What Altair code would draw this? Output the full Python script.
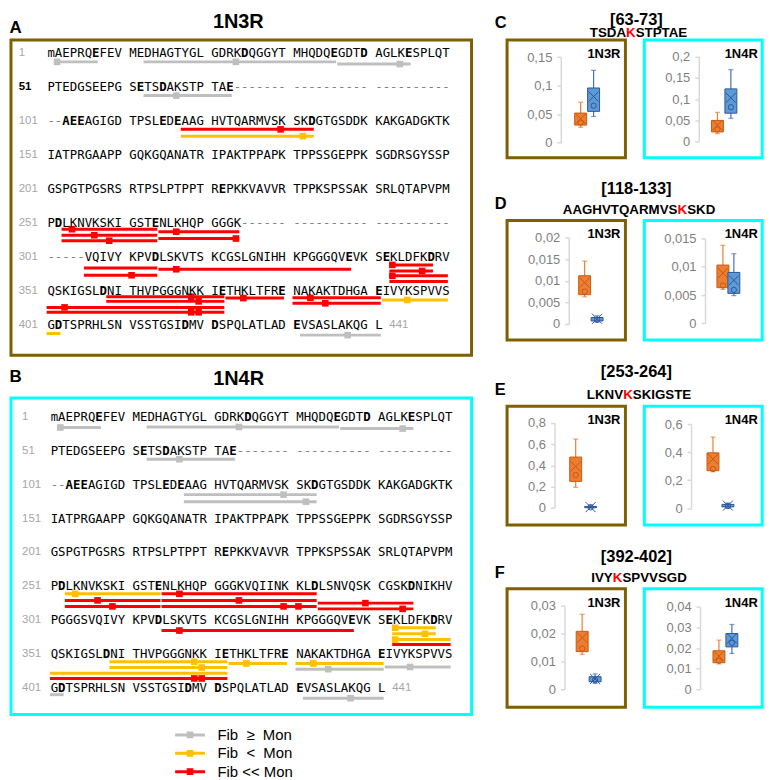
import altair as alt
import pandas as pd

FONT = "Liberation Sans"
MONO = "DejaVu Sans Mono"

# ---------------- tau sequences (2N4R numbering, [X] = bold residue) ----------------
SEQ_1N3R = [
    "mAEPRQ[E]FEV MEDHAGTYGL GDRK[D]QGGYT MHQDQ[E]GDT[D] AGLK[E]SPLQT",
    "PTEDGSEEPG S[E]TS[D]AKSTP TA[E]------- ---------- ----------",
    "--[A][E][E]AGIGD TPSL[E]D[E]AAG HVTQARMVSK SK[D]GTGSDDK KAKGADGKTK",
    "IATPRGAAPP GQKGQANATR IPAKTPPAPK TPPSSGEPPK SGDRSGYSSP",
    "GSPGTPGSRS RTPSLPTPPT R[E]PKKVAVVR TPPKSPSSAK SRLQTAPVPM",
    "P[D]LKNVKSKI GST[E]NLKHQP GGGK------ ---------- ----------",
    "-----VQIVY KPV[D]LSKVTS KCGSLGNIHH KPGGGQV[E]VK S[E]KLDFK[D]RV",
    "QSKIGSL[D]NI THVPGGGNKK I[E]THKLTFR[E] NAKAKTDHGA [E]IVYKSPVVS",
    "G[D]TSPRHLSN VSSTGSI[D]MV [D]SPQLATLAD [E]VSASLAKQG L",
]
SEQ_1N4R = SEQ_1N3R[:5] + [
    "P[D]LKNVKSKI GST[E]NLKHQP GGGKVQIINK KL[D]LSNVQSK CGSK[D]NIKHV",
    "PGGGSVQIVY KPV[D]LSKVTS KCGSLGNIHH KPGGGQV[E]VK S[E]KLDFK[D]RV",
] + SEQ_1N3R[7:]
ROW_NUMBERS = ["1", "51", "101", "151", "201", "251", "301", "351", "401"]
LAST_NUMBER = "441"
DARK_ROW_NUMBERS = {"1N3R": ["51"], "1N4R": []}

CLASS_LABELS = ["Fib\u00a0\u00a0\u2265\u00a0\u00a0Mon", "Fib\u00a0\u00a0<\u00a0\u00a0Mon", "Fib << Mon"]
CLASS_COLORS = ["#bfbfbf", "#ffc000", "#ff0000"]

# peptide segments: (first residue, last residue, class index, stacking lane, modified lysines)
PEPTIDES_1N3R = [
    (2, 7, 0, 0.6, [2]), (13, 36, 0, 0.6, [24]), (37, 45, 0, 1.0, [44]),
    (63, 73, 0, 0.55, [67]),
    (118, 133, 2, 0.5, [130]), (118, 133, 1, 1.75, [132]),
    (253, 264, 2, 0.1, [254]), (253, 264, 2, 1.2, [257]), (253, 264, 2, 2.2, [259]),
    (265, 274, 2, 0.55, [267]), (265, 274, 2, 1.8, [274]),
    (306, 314, 2, 0.95, []), (306, 314, 2, 2.3, [311]), (315, 338, 2, 1.2, [317]),
    (343, 348, 2, 0.4, [343]), (343, 348, 2, 1.5, [347]),
    (343, 350, 2, 2.4, [343]), (343, 350, 2, 3.45, []),
    (359, 372, 2, 0.0, [369]), (359, 372, 2, 0.85, [370]),
    (351, 372, 2, 1.95, [353]), (351, 372, 2, 2.85, [369, 370]),
    (373, 380, 2, 0.25, [375]), (381, 391, 2, 0.2, [383]), (381, 391, 2, 1.2, [385]),
    (392, 400, 1, 0.6, [395]), (401, 402, 1, 0.5, []),
    (432, 441, 0, 0.8, [438]),
]
PEPTIDES_1N4R = [
    (2, 7, 0, 0.9, [2]), (13, 36, 0, 0.8, [24]), (37, 45, 0, 1.1, [44]),
    (63, 73, 0, 0.5, [67]),
    (118, 133, 0, 0.75, [130]), (118, 133, 0, 2.05, [132]),
    (253, 264, 1, 0.25, [254]), (253, 264, 2, 1.45, [257]), (253, 264, 2, 2.55, [259]),
    (265, 283, 2, 0.25, [267]), (265, 283, 2, 1.45, [274]), (265, 283, 2, 2.55, [280, 281]),
    (284, 295, 2, 1.95, [290]), (284, 295, 2, 3.0, [294]),
    (315, 338, 2, 0.75, [317]),
    (343, 348, 1, 0.25, [343]), (343, 348, 1, 1.35, [347]),
    (343, 350, 1, 2.4, [343]), (343, 350, 2, 3.3, []),
    (359, 372, 1, 0.25, [369]), (359, 372, 1, 1.3, [370]),
    (351, 372, 1, 2.35, []), (351, 372, 2, 3.3, [369, 370]),
    (373, 380, 1, 0.55, [375]), (381, 391, 1, 0.55, [383]), (381, 391, 0, 1.6, [385]),
    (392, 400, 0, 1.2, [395]), (401, 402, 0, 0.05, []),
    (432, 441, 0, 0.7, [438]),
]

# ---------------- box-plot panels ----------------
PANEL_KEYS = ["C", "D", "E", "F"]
PANEL_RANGES = ["[63-73]", "[118-133]", "[253-264]", "[392-402]"]
PANEL_PEPTIDES = ["TSDAKSTPTAE", "AAGHVTQARMVSKSKD", "LKNVKSKIGSTE", "IVYKSPVVSGD"]
PANEL_SITE_INDEX = [4, 12, 4, 3]
AXIS_TICKS = {
    "C": {"1N3R": [0, 0.05, 0.1, 0.15], "1N4R": [0, 0.05, 0.1, 0.15, 0.2]},
    "D": {"1N3R": [0, 0.005, 0.01, 0.015, 0.02], "1N4R": [0, 0.005, 0.01, 0.015]},
    "E": {"1N3R": [0, 0.2, 0.4, 0.6, 0.8], "1N4R": [0, 0.2, 0.4, 0.6]},
    "F": {"1N3R": [0, 0.01, 0.02, 0.03], "1N4R": [0, 0.01, 0.02, 0.03, 0.04]},
}
# [whisker low, Q1, Q3, whisker high, mean, point]
BOX_STATS = {
    "C": {"1N3R": {"Mon": [0.027, 0.031, 0.052, 0.071, 0.042, 0.035],
                   "Fib": [0.046, 0.055, 0.096, 0.127, 0.081, 0.065]},
          "1N4R": {"Mon": [0.019, 0.023, 0.050, 0.069, 0.039, 0.029],
                   "Fib": [0.055, 0.067, 0.124, 0.169, 0.103, 0.081]}},
    "D": {"1N3R": {"Mon": [0.0063, 0.0068, 0.0112, 0.0146, 0.0096, 0.0075],
                   "Fib": [0.0004, 0.0007, 0.0015, 0.0019, 0.0012, 0.0010]},
          "1N4R": {"Mon": [0.0060, 0.0063, 0.0103, 0.0138, 0.0089, 0.0067],
                   "Fib": [0.0049, 0.0053, 0.0090, 0.0123, 0.0076, 0.0059]}},
    "E": {"1N3R": {"Mon": [0.194, 0.25, 0.478, 0.647, 0.39, 0.31],
                   "Fib": [0.0, 0.003, 0.015, 0.03, 0.008, 0.006]},
          "1N4R": {"Mon": [0.26, 0.268, 0.395, 0.508, 0.35, 0.28],
                   "Fib": [0.004, 0.010, 0.028, 0.038, 0.019, 0.016]}},
    "F": {"1N3R": {"Mon": [0.0125, 0.0135, 0.0208, 0.0269, 0.0185, 0.0146],
                   "Fib": [0.0021, 0.0027, 0.0045, 0.0055, 0.0037, 0.0033]},
          "1N4R": {"Mon": [0.0123, 0.0129, 0.0187, 0.0239, 0.0161, 0.0139],
                   "Fib": [0.0174, 0.0206, 0.0271, 0.0315, 0.0247, 0.0226]}},
}

# ---------------- styling / layout ----------------
FRAME = {"1N3R": "#7f6000", "1N4R": "#00ffff"}
GROUPS = ["Mon", "Fib"]
G_FILL = {"Mon": "#ed7d31", "Fib": "#5b9bd5"}
G_LINE = {"Mon": "#ed7d31", "Fib": "#4472c4"}
G_DARK = {"Mon": "#c55a11", "Fib": "#2f5597"}
ARIAL_BOLD = {"A": 722, "C": 722, "D": 722, "E": 667, "G": 778, "H": 722, "I": 278,
              "K": 722, "L": 611, "M": 833, "N": 722, "P": 667, "Q": 778, "R": 722,
              "S": 667, "T": 611, "V": 667, "Y": 667}
XPATH = "M-1,-1L1,1M-1,1L1,-1"
LEG_PATH = "M-2,0H2M-0.25,-0.25H0.25V0.25H-0.25Z"
ONE = pd.DataFrame({"v": [0]})


def label(txt, x, y, size, weight="bold", color="black", align="left", font=FONT):
    return alt.Chart(ONE).mark_text(text=txt, fontSize=size, fontWeight=weight, color=color,
                                    align=align, baseline="middle", font=font).encode(
        x=alt.value(x), y=alt.value(y))


def unit(res):
    col = (res - 1) % 50
    return col + col // 10


def seq_panel(iso, rows, peps, x0, cw, y0, rs, width, height, title_xy, letter, letter_xy, legend):
    chars = []
    for r, s in enumerate(rows):
        u, bold = 0, False
        for ch in s:
            if ch == "[":
                bold = True
                continue
            if ch == "]":
                bold = False
                continue
            if ch != " ":
                kind = "dash" if ch == "-" else ("bold" if bold else "plain")
                chars.append(dict(u=u + 0.5, yr=r, ch=ch, kind=kind))
            u += 1
    cdf = pd.DataFrame(chars)
    nums = [dict(u=-3.85, yr=r, txt=t, dark=int(t in DARK_ROW_NUMBERS[iso]))
            for r, t in enumerate(ROW_NUMBERS)]
    nums.append(dict(u=45.9, yr=8, txt=LAST_NUMBER, dark=0))
    ndf = pd.DataFrame(nums)
    bars, marks = [], []
    for s, e, c, lane, ks in peps:
        r = (s - 1) // 50
        yb = r + (6 + 5.5 * lane) / rs
        bars.append(dict(u1=unit(s) - 0.1, u2=unit(e) + 0.75, yb=yb, cls=CLASS_LABELS[c]))
        for k in ks:
            marks.append(dict(um=unit(k) + 0.3, yb=yb, cls=CLASS_LABELS[c]))
    bdf, mdf = pd.DataFrame(bars), pd.DataFrame(marks)

    xs = alt.Scale(domain=[0, 60], range=[x0, x0 + 60 * cw], nice=False, zero=False)
    ys = alt.Scale(domain=[0, 10], range=[y0, y0 + 10 * rs], nice=False, zero=False)
    cs = alt.Scale(domain=CLASS_LABELS, range=CLASS_COLORS)
    if legend:
        leg = alt.Legend(title=None, orient="none", legendX=legend[0], legendY=legend[1],
                         symbolType=LEG_PATH, symbolSize=225, symbolStrokeWidth=3,
                         labelFont=FONT, labelFontSize=15, labelColor="black",
                         labelOffset=18.5, rowPadding=1.5, padding=0, direction="vertical")
        col_r = alt.Color("cls:N", scale=cs, legend=leg)
        col_m = alt.Color("cls:N", scale=cs, legend=leg)
    else:
        col_r = alt.Color("cls:N", scale=cs, legend=None)
        col_m = alt.Color("cls:N", scale=cs, legend=None)

    X = alt.X("u:Q", scale=xs, axis=None)
    Y = alt.Y("yr:Q", scale=ys, axis=None)
    base = alt.Chart(cdf)
    txt = dict(font=MONO, fontSize=12.4, baseline="middle", align="center")
    plain = base.transform_filter(alt.datum.kind == "plain").mark_text(color="black", **txt).encode(x=X, y=Y, text="ch:N")
    boldc = base.transform_filter(alt.datum.kind == "bold").mark_text(color="black", fontWeight="bold", **txt).encode(x=X, y=Y, text="ch:N")
    dash = base.transform_filter(alt.datum.kind == "dash").mark_text(color="#808080", **txt).encode(x=X, y=Y, text="ch:N")
    nbase = alt.Chart(ndf)
    ntxt = dict(font=FONT, fontSize=11.5, baseline="middle", align="left")
    num_l = nbase.transform_filter(alt.datum.dark == 0).mark_text(color="#a6a6a6", **ntxt).encode(x=X, y=Y, text="txt:N")
    num_d = nbase.transform_filter(alt.datum.dark == 1).mark_text(color="black", fontWeight="bold", **ntxt).encode(x=X, y=Y, text="txt:N")
    rules = alt.Chart(bdf).mark_rule(strokeWidth=3).encode(
        x=alt.X("u1:Q", scale=xs, axis=None), x2="u2:Q",
        y=alt.Y("yb:Q", scale=ys, axis=None), color=col_r)
    squares = alt.Chart(mdf).mark_square(size=44, opacity=1).encode(
        x=alt.X("um:Q", scale=xs, axis=None), y=alt.Y("yb:Q", scale=ys, axis=None), color=col_m)
    title = label(iso, title_xy[0], title_xy[1], 20, align="center")
    let = label(letter, letter_xy[0], letter_xy[1], 17)
    return alt.layer(rules, squares, plain, boldc, dash, num_l, num_d, title, let).properties(
        width=width, height=height,
        view=alt.ViewBackground(stroke=FRAME[iso], strokeWidth=3, fill="white"))


# per-panel layout of the small charts
BOX_H = {"C": 118.5, "D": 120, "E": 119.5, "F": 119}
BOX_W = {"1N3R": 119, "1N4R": 118.5}
BOX_YR = {"C": {"1N3R": [103.4, 17.4], "1N4R": [102.4, 16.7]},
          "D": {"1N3R": [104, 17.4], "1N4R": [103.4, 18]},
          "E": {"1N3R": [102.4, 16.7], "1N4R": [102.7, 18]},
          "F": {"1N3R": [101, 17], "1N4R": [101, 18.3]}}
BOX_AX = {"C": {"1N3R": 54, "1N4R": 54.7}, "D": {"1N3R": 62, "1N4R": 61},
          "E": {"1N3R": 47.7, "1N4R": 47}, "F": {"1N3R": 57.7, "1N4R": 56}}
BOX_XP = {"C": {"1N3R": [74, 87], "1N4R": [73.5, 87]},
          "D": {"1N3R": [78, 90.5], "1N4R": [79, 90]},
          "E": {"1N3R": [69, 84], "1N4R": [69, 84]},
          "F": {"1N3R": [75.5, 88.5], "1N4R": [75, 88]}}
HDR_LETTER_Y = [-17.3, -16.8, -16.5, -15.4]
HDR_TITLE_Y = [-20, -31.3, -34, -31.7]
HDR_SEQ_Y = [-7, -10.3, -11.6, -10.7]


def header_layers(i):
    word, k = PANEL_PEPTIDES[i], PANEL_SITE_INDEX[i]
    fs = 13.4
    w = [ARIAL_BOLD[c] * fs / 1000 for c in word]
    left = 132.7 - sum(w) / 2
    xs_site = left + sum(w[:k])
    y = HDR_SEQ_Y[i]
    return [
        label(PANEL_KEYS[i], -12.3, HDR_LETTER_Y[i], 16.5),
        label(PANEL_RANGES[i], 130, HDR_TITLE_Y[i], 16.5, align="center"),
        label(word[:k], left, y, fs),
        label(word[k], xs_site, y, fs, color="#ff0000"),
        label(word[k + 1:], xs_site + w[k], y, fs),
    ]


def box_panel(i, iso):
    key = PANEL_KEYS[i]
    recs = []
    for g in GROUPS:
        lo, q1, q3, hi, mean, pt = BOX_STATS[key][iso][g]
        recs.append(dict(grp=g, lo=lo, q1=q1, q3=q3, hi=hi, mean=mean, pt=pt))
    df = pd.DataFrame(recs)
    ticks = AXIS_TICKS[key][iso]
    xs = alt.Scale(type="point", domain=GROUPS, range=BOX_XP[key][iso], padding=0)
    ys = alt.Scale(domain=[0, ticks[-1]], range=BOX_YR[key][iso], nice=False, zero=False)
    ax = alt.Axis(values=ticks, offset=-BOX_AX[key][iso], title=None, grid=False,
                  labelExpr="replace(format(datum.value, '~g'), '.', ',')",
                  domainColor="#d9d9d9", domainWidth=1.5, tickColor="#d9d9d9", tickWidth=1.5,
                  tickSize=4, labelColor="#7f7f7f", labelFont=FONT, labelFontSize=13,
                  labelPadding=5)
    X = alt.X("grp:N", scale=xs, axis=None)

    def Yf(f):
        return alt.Y(f"{f}:Q", scale=ys, axis=ax)

    layers = []
    for g in GROUPS:
        b = alt.Chart(df).transform_filter(alt.datum.grp == g)
        layers += [
            b.mark_rule(color=G_LINE[g], strokeWidth=1.2).encode(x=X, y=Yf("lo"), y2="hi:Q"),
            b.mark_tick(orient="horizontal", size=5, thickness=1.2, color=G_LINE[g]).encode(x=X, y=Yf("lo")),
            b.mark_tick(orient="horizontal", size=5, thickness=1.2, color=G_LINE[g]).encode(x=X, y=Yf("hi")),
            b.mark_bar(size=12, fill=G_FILL[g], stroke=G_DARK[g], strokeWidth=1).encode(x=X, y=Yf("q1"), y2="q3:Q"),
            b.mark_point(shape=XPATH, size=100, filled=False, color=G_DARK[g], strokeWidth=1, opacity=1).encode(x=X, y=Yf("mean")),
            b.mark_point(shape="circle", size=28, filled=False, color=G_DARK[g], strokeWidth=1, opacity=1).encode(x=X, y=Yf("pt")),
        ]
    layers.append(label(iso, 114, 14, 13, align="right"))
    if iso == "1N3R":
        layers += header_layers(i)
    return alt.layer(*layers).properties(
        width=BOX_W[iso], height=BOX_H[key],
        view=alt.ViewBackground(stroke=FRAME[iso], strokeWidth=3, fill="white"))


def indep(c):
    return c.resolve_scale(x="independent", y="independent", color="independent").resolve_legend(color="independent")


panel_a = seq_panel("1N3R", SEQ_1N3R, PEPTIDES_1N3R, 36.6, 7.49, 12.8, 34.2, 463, 317,
                    (228.5, -18), "A", (-1.5, -11.5), None)
panel_b = seq_panel("1N4R", SEQ_1N4R, PEPTIDES_1N4R, 39.9, 7.48, 18.7, 34.16, 463, 318.2,
                    (228.8, -18.8), "B", (-1.5, -21.3), (171, 329.7))
# outer levels use full bounds (titles included); spacing measured between bounds
left = indep(alt.vconcat(panel_a, panel_b, spacing=9))

rows = [indep(alt.hconcat(box_panel(i, "1N3R"), box_panel(i, "1N4R"), spacing=19, bounds="flush"))
        for i in range(4)]
right = indep(alt.vconcat(*rows, spacing=20.6))

chart = indep(alt.hconcat(left, right, spacing=19.7)).properties(
    padding=0).configure(font=FONT).configure_view(strokeWidth=0)

chart.save("out.html", embed_options={"renderer": "svg", "actions": False})
